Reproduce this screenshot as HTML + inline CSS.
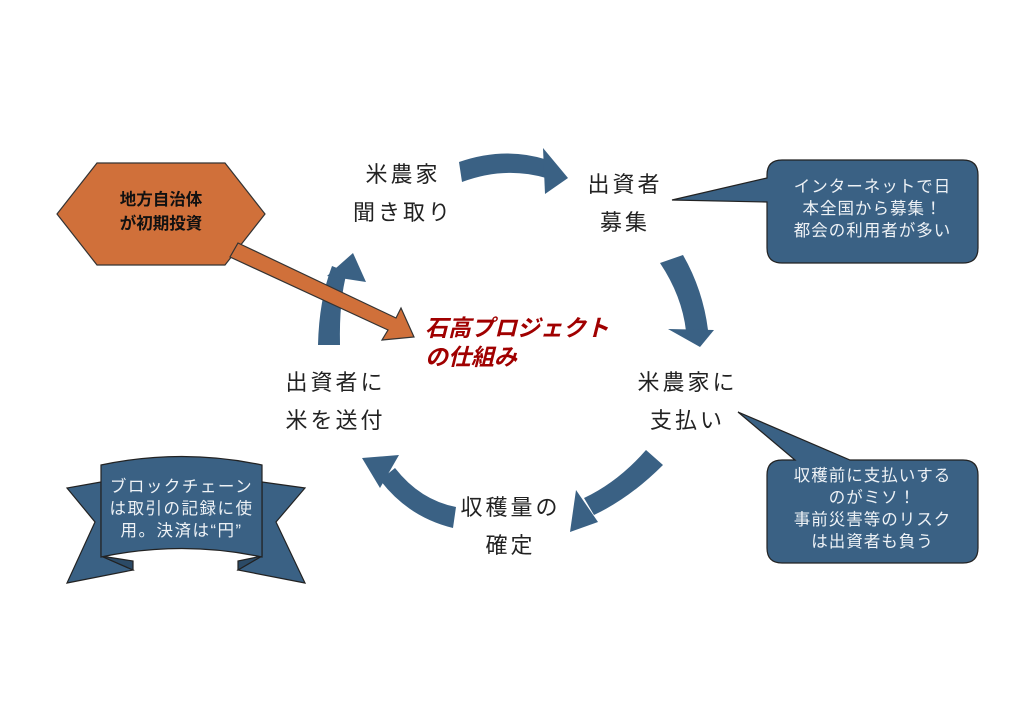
<!DOCTYPE html>
<html><head><meta charset="utf-8"><style>
body{margin:0;background:#fff;width:1024px;height:724px;overflow:hidden;position:relative;font-family:"Liberation Sans","Noto Sans CJK JP",sans-serif}
.t{position:absolute;font-size:22px;color:#222;text-align:center;line-height:38px;letter-spacing:3px;white-space:nowrap}
.w{position:absolute;color:#eef2f6;font-size:16.5px;line-height:22px;text-align:center;letter-spacing:1px;white-space:nowrap}
</style></head><body>
<svg width="1024" height="724" style="position:absolute;left:0;top:0">
<g fill="#3a6184" stroke="none">
<path d="M459 162 Q505 146 548 160 L546 178 Q505 166 462 182 Z"/>
<polygon points="543,148 568,178 545,194"/>
<path d="M660 263 L683 255 Q703 290 708 330 L686 331 Q682 296 660 263 Z"/>
<polygon points="668,329 714,330 700,347"/>
<path d="M646 450 L663 465 Q630 498 594 515 L584 498 Q618 482 646 450 Z"/>
<polygon points="576,490 598,522 570,532"/>
<path d="M456 507 L453 528 Q408 517 380 480 L395 468 Q420 500 456 507 Z"/>
<polygon points="362,458 399,455 380,488"/>
<path d="M318 345 L340 345 Q339 300 347 272 L332 266 Q319 300 318 345 Z"/>
<polygon points="327,276 353,253 366,282"/>
</g>
<polygon points="57,214 97,163 225,163 265,214 225,265 97,265" fill="#d0703a" stroke="#333" stroke-width="1.2"/>
<polygon points="238,243 396,318 401,308 414,337 382,340 388,330 230,257" fill="#d0703a" stroke="#333" stroke-width="1.2"/>
<path d="M782 160 H963 Q978 160 978 175 V248 Q978 263 963 263 H782 Q767 263 767 248 V202 L672 200 L767 178 V175 Q767 160 782 160 Z" fill="#3a6184" stroke="#222" stroke-width="1.2"/>
<path d="M782 460 H795 L738 412 L850 460 H963 Q978 460 978 475 V548 Q978 563 963 563 H782 Q767 563 767 548 V475 Q767 460 782 460 Z" fill="#3a6184" stroke="#222" stroke-width="1.2"/>
<g fill="#3a6184" stroke="#222" stroke-width="1.2">
<polygon points="101,482 67,488 95,522 67,583 133,570 101,556"/>
<polygon points="262,482 305,488 276,522 305,583 238,570 262,556"/>
<polygon points="101,556 133,570 133,561" fill="#2b4a66"/>
<polygon points="262,556 238,570 238,561" fill="#2b4a66"/>
<path d="M101 465 Q182 448 262 465 V557 Q182 540 101 557 Z"/>
</g>
</svg>
<div style="position:absolute;left:57px;top:188px;width:208px;text-align:center;font-weight:bold;font-size:16.5px;line-height:24px;color:#111">地方自治体<br>が初期投資</div>
<div class="t" style="left:343px;top:156px;width:120px">米農家<br>聞き取り</div>
<div class="t" style="left:570px;top:166px;width:110px">出資者<br>募集</div>
<div class="t" style="left:625px;top:364px;width:125px">米農家に<br>支払い</div>
<div class="t" style="left:448px;top:489px;width:125px">収穫量の<br>確定</div>
<div class="t" style="left:273px;top:364px;width:125px">出資者に<br>米を送付</div>
<div style="position:absolute;left:425px;top:314px;font-size:23px;line-height:29px;font-weight:bold;font-style:italic;color:#a00000;white-space:nowrap">石高プロジェクト<br>の仕組み</div>
<div class="w" style="left:767px;top:176px;width:211px">インターネットで日<br>本全国から募集！<br>都会の利用者が多い</div>
<div class="w" style="left:767px;top:465px;width:211px">収穫前に支払いする<br>のがミソ！<br>事前災害等のリスク<br>は出資者も負う</div>
<div class="w" style="left:101px;top:476px;width:161px;letter-spacing:1.5px">ブロックチェーン<br>は取引の記録に使<br>用。決済は“円”</div>
</body></html>
